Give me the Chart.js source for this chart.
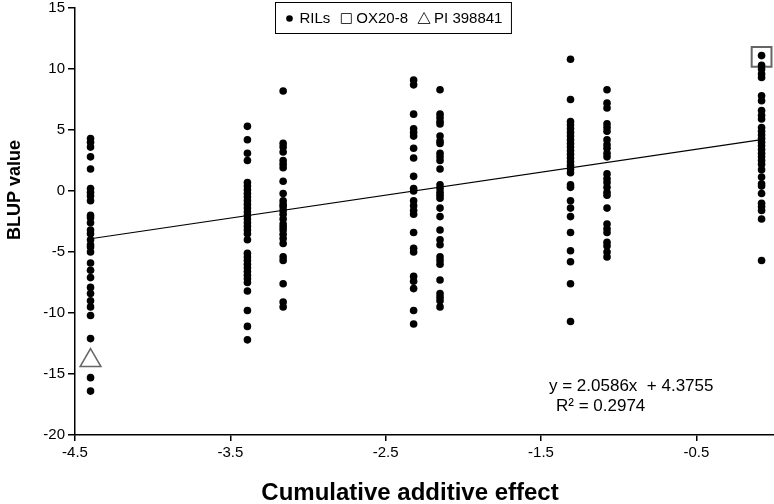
<!DOCTYPE html>
<html>
<head>
<meta charset="utf-8">
<script src="https://cdn.jsdelivr.net/npm/chart.js@4.4.0/dist/chart.umd.min.js"></script>
<style>
  html, body { margin: 0; padding: 0; background: #fff; overflow: hidden; }
  #wrap { width: 774px; height: 504px; }
  canvas { display: block; }
</style>
</head>
<body>
<div id="wrap"><canvas id="blupChart" width="774" height="504"></canvas></div>
<script>
// x position of each RIL group (cumulative additive effect)
const groupX = [-4.40, -3.39, -3.16, -2.32, -2.15, -1.31, -1.075, -0.08];

// BLUP values of the RILs in each group
const group1 = [4.3, 4.0, 3.6, 2.8, 1.8, 0.2, -0.1, -0.4, -0.8, -2.0, -2.2, -2.6, -3.2, -3.5, -4.0,
  -4.4, -4.6, -5.0, -5.9, -6.5, -7.1, -7.9, -8.4, -9.0, -9.5, -10.2, -12.1, -15.3, -16.4];
const group2 = [5.3, 4.2, 3.1, 2.5, 0.7, 0.4, 0.1, -0.2, -0.5, -0.8, -1.1, -1.4, -1.7, -2.0, -2.3,
  -2.6, -2.9, -3.2, -3.5, -4.0, -5.1, -5.4, -5.7, -6.0, -6.3, -6.6, -6.9, -7.2, -7.5, -8.2, -9.8, -11.1, -12.2];
const group3 = [8.2, 3.9, 3.6, 3.2, 2.5, 2.2, 1.9, 0.8, -0.2, -0.8, -1.1, -1.3, -1.6, -1.9, -2.3,
  -2.7, -2.95, -3.2, -3.55, -3.9, -4.3, -5.4, -5.7, -7.6, -9.1, -9.5];
const group4 = [9.1, 8.7, 6.3, 5.1, 4.8, 4.5, 3.5, 2.7, 1.2, 0.2, 0.0, -0.8, -1.2, -1.6, -1.9,
  -3.4, -4.7, -5.0, -7.0, -7.4, -8.0, -9.8, -10.9];
const group5 = [8.3, 6.3, 6.0, 5.7, 5.5, 4.5, 4.1, 3.9, 3.1, 2.8, 2.5, 1.8, 0.5, 0.2, -0.1, -0.35,
  -0.6, -1.4, -2.1, -3.2, -4.0, -4.4, -5.4, -5.7, -6.0, -7.3, -8.4, -8.7, -9.0, -9.5];
const group6 = [10.8, 7.5, 5.7, 5.4, 5.1, 4.8, 4.5, 4.2, 3.9, 3.6, 3.3, 3.0, 2.7, 2.4, 2.1, 1.8, 1.5,
  0.5, 0.3, -0.8, -1.4, -2.1, -3.4, -4.9, -5.8, -7.6, -10.7];
const group7 = [8.3, 7.2, 6.8, 5.5, 5.2, 4.9, 4.2, 3.8, 3.5, 3.1, 2.8, 1.4, 1.0, 0.7, 0.3, -0.1,
  -0.35, -1.4, -2.7, -3.1, -3.4, -4.2, -4.5, -5.0, -5.4];
const group8 = [11.1, 10.3, 10.0, 9.6, 9.3, 7.8, 7.4, 6.6, 6.2, 5.9, 5.2, 4.9, 4.6, 4.3, 4.0, 3.7,
  3.4, 3.1, 2.8, 2.5, 2.2, 1.75, 1.15, 0.6, 0.4, -0.2, -1.0, -1.3, -1.6, -2.3, -5.7];
const groups = [group1, group2, group3, group4, group5, group6, group7, group8];

// parents
const ox20X = [-0.08], ox20Y = [11.0];
const piX = [-4.40], piY = [-13.9];

// trend line as drawn in the figure
const trendSlope = 1.88;
const trendIntercept = 4.36;
const eqText = 'y = 2.0586x  + 4.3755';
const r2Text = 'R\u00b2 = 0.2974';

const xTickValues = [-4.5, -3.5, -2.5, -1.5, -0.5];
const xTitle = 'Cumulative additive effect';
const yTitle = 'BLUP value';
const FONT = '"Liberation Sans", Arial, sans-serif';

const rilPoints = [];
groups.forEach((g, i) => g.forEach(v => rilPoints.push({ x: groupX[i], y: v })));
const trendPoints = [groupX[0], groupX[groupX.length - 1]].map(x => ({ x: x, y: trendSlope * x + trendIntercept }));

// framed legend inside the plot, axis titles and the equation
const extras = {
  id: 'extras',
  afterDraw(chart) {
    const c = chart.ctx;
    c.save();
    c.font = '15px ' + FONT;
    c.textBaseline = 'middle';
    const items = [
      { label: 'RILs', kind: 'dot' },
      { label: 'OX20-8', kind: 'square' },
      { label: 'PI 398841', kind: 'triangle' }
    ];
    const markW = 10, gapMark = 5, gapItem = 11, pad = 9;
    let total = pad * 2;
    items.forEach((it, i) => { total += markW + gapMark + c.measureText(it.label).width + (i ? gapItem : 0); });
    const h = 31, top = 2;
    let left = Math.round(393 - total / 2) + 0.5;
    c.fillStyle = '#fff';
    c.fillRect(left, top + 0.5, total, h);
    c.strokeStyle = '#000';
    c.lineWidth = 1;
    c.strokeRect(left, top + 0.5, total, h);
    let x = left + pad;
    const cy = top + h / 2 + 1;
    items.forEach((it, i) => {
      if (i) x += gapItem;
      const mx = x + markW / 2;
      c.beginPath();
      if (it.kind === 'dot') {
        c.fillStyle = '#000';
        c.arc(mx, cy, 3.3, 0, Math.PI * 2);
        c.fill();
      } else if (it.kind === 'square') {
        c.strokeStyle = '#333';
        c.rect(mx - 5, cy - 5, 10, 10);
        c.stroke();
      } else {
        c.strokeStyle = '#333';
        c.moveTo(mx, cy - 6);
        c.lineTo(mx + 6, cy + 5);
        c.lineTo(mx - 6, cy + 5);
        c.closePath();
        c.stroke();
      }
      x += markW + gapMark;
      c.fillStyle = '#000';
      c.textAlign = 'left';
      c.fillText(it.label, x, cy);
      x += c.measureText(it.label).width;
    });

    // regression equation
    c.font = '17px ' + FONT;
    c.textAlign = 'left';
    c.fillText(eqText, 549, 386);
    c.fillText(r2Text, 556, 406);

    // axis titles
    c.font = 'bold 24px ' + FONT;
    c.textAlign = 'center';
    c.fillText(xTitle, 410, 493);
    c.translate(15, 190);
    c.rotate(-Math.PI / 2);
    c.font = 'bold 18px ' + FONT;
    c.fillText(yTitle, 0, 0);
    c.restore();
  }
};

new Chart(document.getElementById('blupChart'), {
  type: 'scatter',
  data: {
    datasets: [
      {
        type: 'line',
        label: 'trend',
        data: trendPoints,
        borderColor: '#000',
        borderWidth: 1.2,
        pointRadius: 0,
        fill: false,
        order: 0
      },
      {
        label: 'RILs',
        data: rilPoints,
        backgroundColor: '#000',
        borderWidth: 0,
        pointRadius: 3.8,
        pointHoverRadius: 3.8,
        order: 1
      },
      {
        label: 'OX20-8',
        data: ox20X.map((x, i) => ({ x: x, y: ox20Y[i] })),
        pointStyle: 'rect',
        pointRadius: 14,
        backgroundColor: 'rgba(0,0,0,0)',
        borderColor: '#666',
        borderWidth: 2,
        clip: false,
        order: 2
      },
      {
        label: 'PI 398841',
        data: piX.map((x, i) => ({ x: x, y: piY[i] })),
        pointStyle: 'triangle',
        pointRadius: 12,
        backgroundColor: 'rgba(0,0,0,0)',
        borderColor: '#666',
        borderWidth: 1.5,
        order: 2
      }
    ]
  },
  options: {
    responsive: false,
    devicePixelRatio: 1,
    animation: false,
    layout: { autoPadding: false, padding: 0 },
    plugins: {
      legend: { display: false },
      tooltip: { enabled: false }
    },
    scales: {
      x: {
        type: 'linear',
        min: -4.5,
        max: 0,
        afterBuildTicks: s => { s.ticks = xTickValues.map(v => ({ value: v })); },
        afterFit: s => { s.height = 69; s.paddingRight = 0; s.paddingLeft = 0; },
        ticks: {
          callback: v => v.toFixed(1),
          color: '#000',
          font: { family: FONT, size: 15 },
          padding: 3,
          maxRotation: 0
        },
        grid: { drawOnChartArea: false, drawTicks: true, tickLength: 6, color: '#000', lineWidth: 1.5 },
        border: { color: '#000', width: 1.5 }
      },
      y: {
        min: -20,
        max: 15,
        afterFit: s => { s.width = 75; s.paddingTop = 8; },
        ticks: {
          stepSize: 5,
          color: '#000',
          font: { family: FONT, size: 15 },
          padding: 3
        },
        grid: { drawOnChartArea: false, drawTicks: true, tickLength: 7, color: '#000', lineWidth: 1.5 },
        border: { color: '#000', width: 1.5 }
      }
    }
  },
  plugins: [extras]
});
</script>
</body>
</html>
